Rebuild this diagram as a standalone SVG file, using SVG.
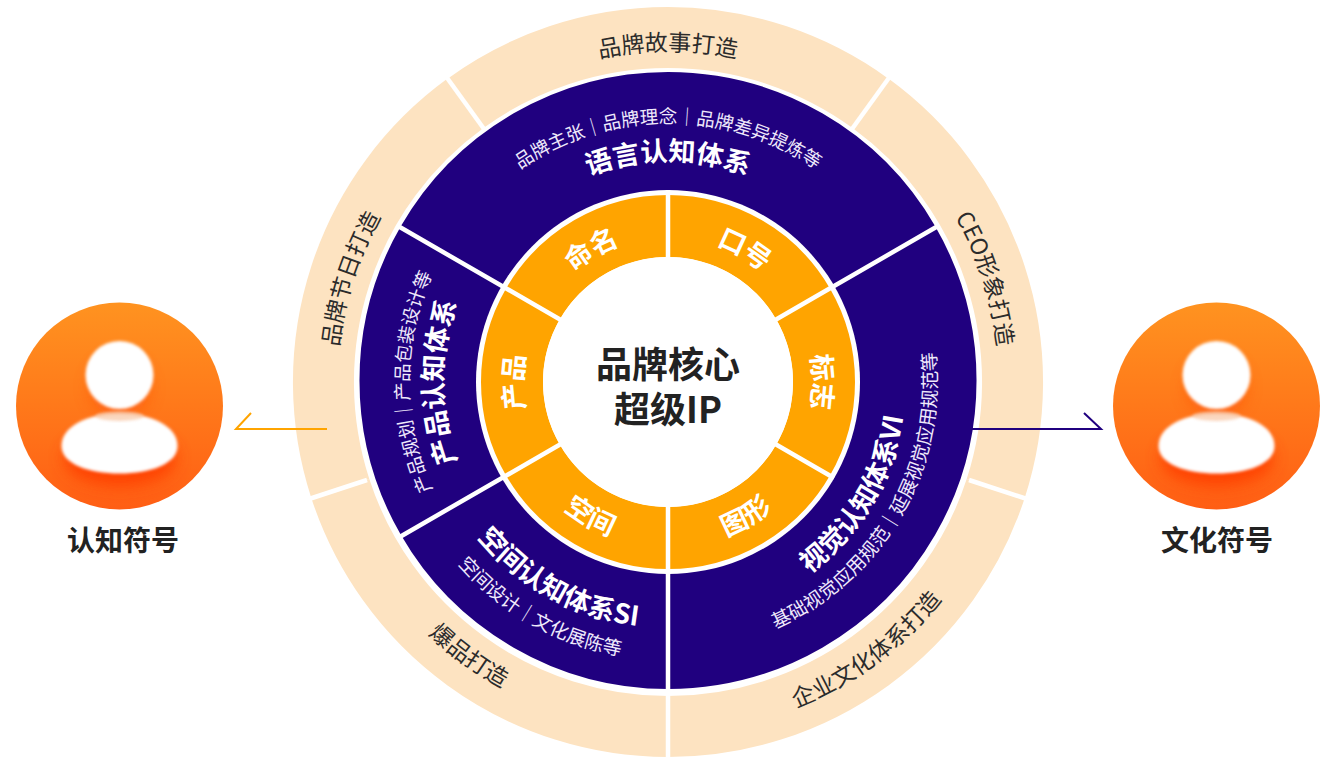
<svg xmlns="http://www.w3.org/2000/svg" width="1332" height="769" viewBox="0 0 1332 769">
<style>
text{font-family:"Noto Sans CJK SC","Noto Sans",sans-serif;text-anchor:middle}
.seg-o{fill:none;stroke:#fde3c1;stroke-width:61}
.seg-n{fill:none;stroke:#20007f;stroke-width:121}
.seg-y{fill:none;stroke:#ffa400;stroke-width:62}
.out{font-size:23px;fill:#2b2b2b}
.sub{font-size:19px;fill:#efe9fb}
.sub2{font-size:18.500px;fill:#efe9fb}
.ttl{font-size:27px;font-weight:700;fill:#fff}
.org{font-size:27px;font-weight:700;fill:#fff}
.div{stroke:#fff;stroke-width:4.500;fill:none}
.lab{font-size:28px;font-weight:700;fill:#222}
.core{font-size:36px;font-weight:700;fill:#222}
.arr{fill:none;stroke-width:2}
</style>
<defs>
<linearGradient id="g" x1="0" y1="0" x2="0" y2="1"><stop offset="0" stop-color="#ff9320"/><stop offset="1" stop-color="#ff5e14"/></linearGradient>
<filter id="soft" x="-20%" y="-20%" width="140%" height="140%"><feGaussianBlur stdDeviation="1.500"/></filter>
<filter id="sh" x="-40%" y="-60%" width="180%" height="220%"><feGaussianBlur stdDeviation="8"/></filter>
<clipPath id="cl"><circle cx="119.500" cy="406" r="103.500"/></clipPath>
<g id="avatar">
<circle cx="119.500" cy="406" r="103.500" fill="url(#g)"/>
<g clip-path="url(#cl)">
<ellipse cx="119.500" cy="387" rx="30" ry="30" fill="#ff5208" opacity=".6" filter="url(#sh)"/>
<ellipse cx="120" cy="458" rx="56" ry="28" fill="#ff3f00" opacity=".95" filter="url(#sh)"/>
</g>
<circle cx="119.500" cy="375" r="34" fill="#fff" filter="url(#soft)"/>
<path d="M61.500 446C61.500 426 88 413.500 119.500 413.500C151 413.500 177.500 426 177.500 446C177.500 464 150 473.500 119.500 473.500C89 473.500 61.500 464 61.500 446Z" fill="#fff" filter="url(#soft)"/>
<ellipse cx="119.500" cy="416" rx="24" ry="5" fill="#f8c6a4" opacity=".7" filter="url(#soft)"/>
</g>
<path id="t331" d="M337 382A331 331 0 0 1 999 382"/>
<path id="b348" d="M320 382A348 348 0 0 0 1016 382"/>
<path id="b350" d="M318 382A350 350 0 0 0 1018 382"/>
<path id="t259" d="M409 382A259 259 0 0 1 927 382"/>
<path id="t221" d="M447 382A221 221 0 0 1 889 382"/>
<path id="t225" d="M443 382A225 225 0 0 1 893 382"/>
<path id="b269" d="M399 382A269 269 0 0 0 937 382"/>
<path id="b238" d="M430 382A238 238 0 0 0 906 382"/>
<path id="b278" d="M390 382A278 278 0 0 0 946 382"/>
<path id="b246" d="M422 382A246 246 0 0 0 914 382"/>
<path id="t145" d="M523 382A145 145 0 0 1 813 382"/>
<path id="b165" d="M503 382A165 165 0 0 0 833 382"/>
</defs>

<g id="node-story"><path class="seg-o" d="M465.500 103.300A344.500 344.500 0 0 1 870.500 103.300"/><text class="out"><textPath href="#t331" startOffset="50%">品牌故事打造</textPath></text></g>
<g id="node-ceo"><path class="seg-o" d="M870.500 103.300A344.500 344.500 0 0 1 995.700 488.500"/><g transform="rotate(72 668 382)"><text class="out"><textPath href="#t331" startOffset="50%">CEO形象打造</textPath></text></g></g>
<g id="node-culture"><path class="seg-o" d="M995.700 488.500A344.500 344.500 0 0 1 668 726.500"/><g transform="rotate(-36.500 668 382)"><text class="out"><textPath href="#b350" startOffset="50%">企业文化体系打造</textPath></text></g></g>
<g id="node-hit"><path class="seg-o" d="M668 726.500A344.500 344.500 0 0 1 340.300 488.500"/><g transform="rotate(36 668 382)"><text class="out"><textPath href="#b348" startOffset="50%">爆品打造</textPath></text></g></g>
<g id="node-festival"><path class="seg-o" d="M340.300 488.500A344.500 344.500 0 0 1 465.500 103.300"/><g transform="rotate(-72 668 382)"><text class="out"><textPath href="#t331" startOffset="50%">品牌节日打造</textPath></text></g></g>

<g id="node-language"><path class="seg-n" d="M453.200 256.500A248 248 0 0 1 882.800 256.500"/></g>
<g id="node-visual"><path class="seg-n" d="M882.800 256.500A248 248 0 0 1 668 628.500"/></g>
<g id="node-space"><path class="seg-n" d="M668 628.500A248 248 0 0 1 453.200 504.500"/></g>
<g id="node-product"><path class="seg-n" d="M453.200 504.500A248 248 0 0 1 453.200 256.500"/></g>

<g id="dividers">
<g class="div">
<path d="M668 690V769"/>
<path d="M484 129L445 75"/><path d="M852 129L891 75"/>
<path d="M367 480L306 500"/><path d="M969 480L1030 500"/>
<path d="M668 382V692M668 382L398 226M668 382L938 226M668 382L398 538"/>
</g>
<circle cx="668" cy="382" r="192" fill="#fff"/>
</g>

<g id="node-name"><path class="seg-y" d="M532.900 304A156 156 0 0 1 668 226"/><g transform="rotate(-30 668 382)"><text class="org"><textPath href="#t145" startOffset="50%">命名</textPath></text></g></g>
<g id="node-slogan"><path class="seg-y" d="M668 226A156 156 0 0 1 803.100 304"/><g transform="rotate(30 668 382)"><text class="org"><textPath href="#t145" startOffset="50%">口号</textPath></text></g></g>
<g id="node-logo"><path class="seg-y" d="M803.100 304A156 156 0 0 1 803.100 460"/><g transform="rotate(90 668 382)"><text class="org"><textPath href="#t145" startOffset="50%">标志</textPath></text></g></g>
<g id="node-graphic"><path class="seg-y" d="M803.100 460A156 156 0 0 1 668 538"/><g transform="rotate(-30 668 382)"><text class="org"><textPath href="#b165" startOffset="50%">图形</textPath></text></g></g>
<g id="node-spatial"><path class="seg-y" d="M668 538A156 156 0 0 1 532.900 460"/><g transform="rotate(30 668 382)"><text class="org"><textPath href="#b165" startOffset="50%">空间</textPath></text></g></g>
<g id="node-prod"><path class="seg-y" d="M532.900 460A156 156 0 0 1 532.900 304"/><g transform="rotate(-90 668 382)"><text class="org"><textPath href="#t145" startOffset="50%">产品</textPath></text></g></g>

<g id="inner-dividers" class="div"><path d="M668 382V190M668 382V574M668 382L834 286M668 382L502 286M668 382L834 478M668 382L502 478"/></g>

<g id="node-core">
<circle cx="668" cy="382" r="125" fill="#fff"/>
<text class="core" x="668" y="378">品牌核心</text>
<text class="core" x="668" y="423">超级IP</text>
</g>

<g id="labels-language"><text class="sub2"><textPath href="#t259" startOffset="50%">品牌主张｜品牌理念｜品牌差异提炼等</textPath></text><text class="ttl"><textPath href="#t221" startOffset="50%">语言认知体系</textPath></text></g>
<g id="labels-product" transform="rotate(-90 668 382)"><text class="sub2"><textPath href="#t259" startOffset="50%">产品规划｜产品包装设计等</textPath></text><text class="ttl"><textPath href="#t225" startOffset="50%">产品认知体系</textPath></text></g>
<g id="labels-visual"><g transform="rotate(-60 668 382)"><text class="sub"><textPath href="#b269" startOffset="50%">基础视觉应用规范｜延展视觉应用规范等</textPath></text></g><g transform="rotate(-59 668 382)"><text class="ttl"><textPath href="#b238" startOffset="50%">视觉认知体系VI</textPath></text></g></g>
<g id="labels-space"><g transform="rotate(29.500 668 382)"><text class="sub"><textPath href="#b278" startOffset="50%">空间设计｜文化展陈等</textPath></text></g><g transform="rotate(29 668 382)"><text class="ttl"><textPath href="#b246" startOffset="50%">空间认知体系SI</textPath></text></g></g>

<g id="connectors">
<path class="arr" stroke="#ffa400" d="M327 429H236L251 413"/>
<path class="arr" stroke="#20007f" d="M972 429H1101L1084 413"/>
</g>

<g id="node-cognition"><use href="#avatar"/><text class="lab" x="123" y="551">认知符号</text></g>
<g id="node-culture-symbol"><use href="#avatar" transform="translate(1097 0)"/><text class="lab" x="1217" y="551">文化符号</text></g>
</svg>
